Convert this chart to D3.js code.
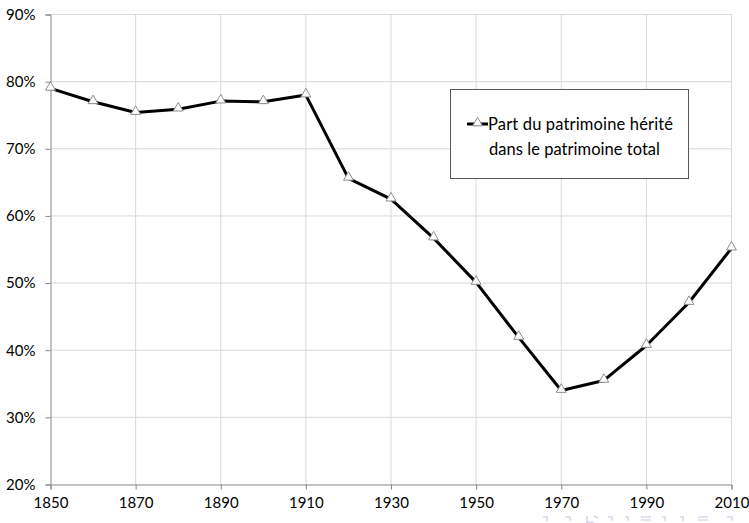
<!DOCTYPE html>
<html><head><meta charset="utf-8">
<script src="https://cdn.jsdelivr.net/npm/d3@7"></script>
<style>body{margin:0;background:#fff}svg{display:block}</style>
</head><body>
<script>
const years = [1850,1860,1870,1880,1890,1900,1910,1920,1930,1940,1950,1960,1970,1980,1990,2000,2010];
const shares = [79.0,77.0,75.4,75.9,77.1,77.0,78.0,65.6,62.5,56.7,50.1,41.9,34.0,35.5,40.7,47.1,55.2];
const xTicks = [1850,1870,1890,1910,1930,1950,1970,1990,2010];
const yTicks = [20,30,40,50,60,70,80,90];
const seriesLabel = ["Part du patrimoine hérité","dans le patrimoine total"];

const W=749,H=523;
const font="Lato, 'Open Sans', sans-serif";
const svg=d3.select("body").append("svg").attr("width",W).attr("height",H);
const x=d3.scaleLinear().domain([1850,2010]).range([50.5,731.5]);
const y=d3.scaleLinear().domain([20,90]).range([484.5,14.5]);

// gridlines
svg.append("g").selectAll("line").data(yTicks.slice(1)).join("line")
 .attr("x1",x(1850)).attr("x2",x(2010)).attr("y1",d=>y(d)).attr("y2",d=>y(d))
 .attr("stroke","#d9d9d9").attr("stroke-width",1);
svg.append("g").selectAll("line").data(xTicks.slice(1)).join("line")
 .attr("x1",d=>x(d)).attr("x2",d=>x(d)).attr("y1",y(20)).attr("y2",y(90))
 .attr("stroke","#d9d9d9").attr("stroke-width",1);

// axes
const yAxis=svg.append("g").attr("transform",`translate(${x(1850)},0)`)
 .call(d3.axisLeft(y).tickValues(yTicks).tickFormat(d=>d+"%").tickSize(5).tickPadding(10));
const xAxis=svg.append("g").attr("transform",`translate(0,${y(20)})`)
 .call(d3.axisBottom(x).tickValues(xTicks).tickFormat(d3.format("d")).tickSize(5).tickPadding(8));
[yAxis,xAxis].forEach(g=>{
  g.select(".domain").attr("stroke","#868686");
  g.selectAll(".tick line").attr("stroke","#868686");
  g.selectAll("text").attr("font-family",font).attr("font-size",15).attr("fill","#000");
});

// line
svg.append("path").datum(years.map((d,i)=>[d,shares[i]]))
 .attr("d",d3.line().x(d=>x(d[0])).y(d=>y(d[1])))
 .attr("fill","none").attr("stroke","#000").attr("stroke-width",3).attr("stroke-linejoin","round");

const tri=d3.symbol().type(d3.symbolTriangle).size(42);
svg.append("g").selectAll("path").data(years).join("path")
 .attr("d",tri).attr("transform",(d,i)=>`translate(${x(d)},${y(shares[i])-1})`)
 .attr("fill","#fff").attr("stroke","#8c8c8c").attr("stroke-width",1);

// legend
const lg=svg.append("g");
lg.append("rect").attr("x",450.5).attr("y",89.5).attr("width",238).attr("height",89)
 .attr("fill","#fff").attr("stroke","#595959").attr("stroke-width",1);
lg.append("line").attr("x1",467).attr("x2",488).attr("y1",124).attr("y2",124)
 .attr("stroke","#000").attr("stroke-width",3);
lg.append("path").attr("d",tri).attr("transform","translate(477.5,123)")
 .attr("fill","#fff").attr("stroke","#8c8c8c");
lg.append("text").attr("x",488).attr("y",130).attr("font-family",font).attr("font-size",16.5).attr("textLength",185).text(seriesLabel[0]);
lg.append("text").attr("x",489).attr("y",155).attr("font-family",font).attr("font-size",16.5).attr("textLength",171).text(seriesLabel[1]);

// faint presentation navigation symbols (cut off at bottom edge)
const nav=svg.append("g").attr("stroke","#c8c8e4").attr("fill","none").attr("stroke-width",1.2);
[[543,547],[565,570],[608,612],[625,628],[662,665],[680,683],[727,732]].forEach(([a,b])=>{
  nav.append("path").attr("d",`M${a},517 L${b},517 L${b},521`);
});
nav.append("path").attr("d","M587,516 L587,523 M587,522 L594,522 M594,516 L598,518");
nav.append("path").attr("d","M641,517 L651,517 M641,520 L651,520");
nav.append("path").attr("d","M698,517 L708,517 M698,520 L708,520");
</script>
</body></html>
